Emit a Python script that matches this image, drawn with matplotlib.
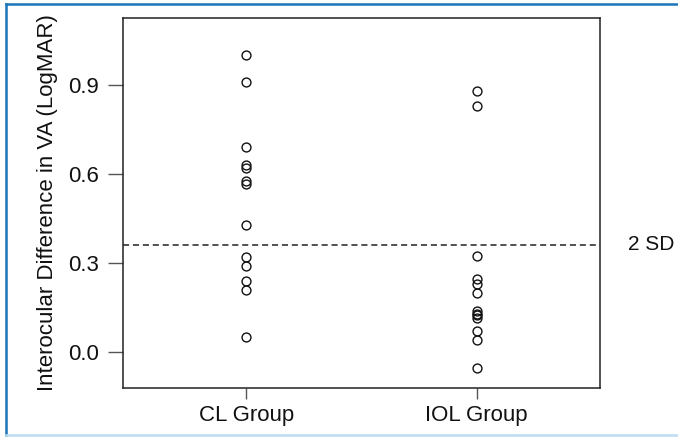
import matplotlib
matplotlib.use('Agg')
import matplotlib.pyplot as plt
from matplotlib.lines import Line2D

plt.rcParams['font.family'] = ['Liberation Sans', 'DejaVu Sans']

groups = ['CL Group', 'IOL Group']
cl_vals = [1.00, 0.91, 0.69, 0.63, 0.62, 0.575, 0.565, 0.43, 0.32, 0.29, 0.24, 0.21, 0.05]
iol_vals = [0.88, 0.83, 0.325, 0.245, 0.23, 0.20, 0.14, 0.13, 0.125, 0.115, 0.07, 0.04, -0.055]
sd2 = 0.362
yticks = [0.0, 0.3, 0.6, 0.9]

fig = plt.figure(figsize=(6.78, 4.37), dpi=100)
ax = fig.add_axes([123 / 678, 1 - 388 / 437, (600 - 123) / 678, (388 - 18) / 437])

for i, vals in enumerate([cl_vals, iol_vals]):
    ax.plot([i + 1] * len(vals), vals, 'o', ms=6.4, mfc='none', mec='#111111', mew=1.0)

ax.axhline(sd2, color='#222222', lw=1.1, ls=(0, (4, 2.5)))
ax.text(2.658, sd2, '2 SD', fontsize=15, va='center', ha='left', color='#111111', clip_on=False)

ax.set_xlim(0.465, 2.535)
ax.set_ylim(-0.121, 1.126)
ax.set_xticks([1, 2])
ax.set_xticklabels(groups, fontsize=16, color='#111111')
ax.set_yticks(yticks)
ax.set_yticklabels(['%.1f' % v for v in yticks], fontsize=16, color='#111111')
ax.tick_params(axis='x', length=8, width=1, color='#555555', pad=4)
ax.tick_params(axis='y', length=10.5, width=1, color='#555555', pad=7)
ax.set_ylabel('Interocular Difference in VA (LogMAR)', fontsize=16, color='#111111', labelpad=7)
for s in ax.spines.values():
    s.set_color('#222222')
    s.set_linewidth(1.1)

# blue frame around figure
fig.add_artist(Line2D([6 / 678, 1], [1 - 4 / 437, 1 - 4 / 437], color='#1a75b9', lw=1.8, transform=fig.transFigure))
fig.add_artist(Line2D([6 / 678, 6 / 678], [1 - 4 / 437, 2 / 437], color='#1a75b9', lw=1.8, transform=fig.transFigure))
fig.add_artist(Line2D([6 / 678, 1], [2 / 437, 2 / 437], color='#bcdcf0', lw=1.8, transform=fig.transFigure))

fig.savefig('out.png', dpi=100)
